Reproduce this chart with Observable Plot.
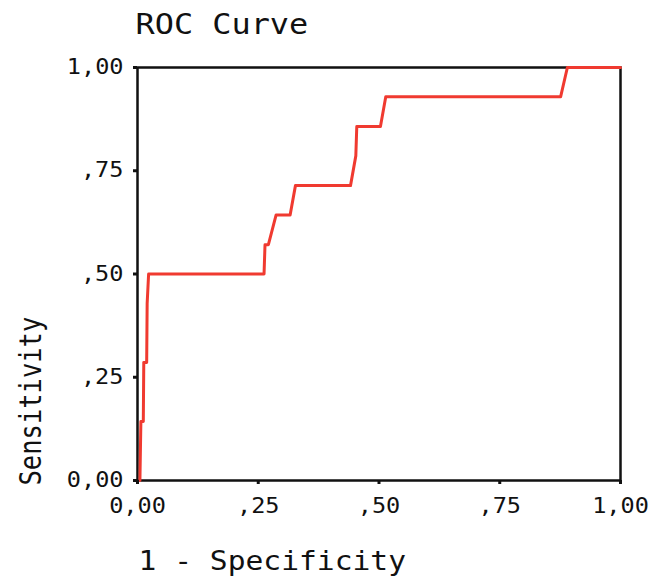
<!DOCTYPE html>
<html>
<head>
<meta charset="utf-8">
<script src="https://cdn.jsdelivr.net/npm/d3@7"></script>
<script src="https://cdn.jsdelivr.net/npm/@observablehq/plot@0.6"></script>
<style>
  html, body { margin: 0; padding: 0; background: #fff; }
</style>
</head>
<body>
<div id="chart"></div>
<script>
const title = "ROC Curve";
const xLabel = "1 - Specificity";
const yLabel = "Sensitivity";
const tickValues = [0, 0.25, 0.5, 0.75, 1];
const tickLabels = ["0,00", ",25", ",50", ",75", "1,00"];

// ROC curve points (1 - specificity, sensitivity)
const fpr = [0.005, 0.007, 0.012, 0.013, 0.019, 0.020, 0.023, 0.262, 0.264, 0.271, 0.287, 0.316, 0.327, 0.441, 0.452, 0.454, 0.503, 0.514, 0.876, 0.890, 1.000];
const tpr = [0.000, 0.143, 0.143, 0.286, 0.286, 0.429, 0.500, 0.500, 0.571, 0.571, 0.643, 0.643, 0.714, 0.714, 0.786, 0.857, 0.857, 0.929, 0.929, 1.000, 1.000];

const data = fpr.map((x, i) => ({x, y: tpr[i]}));
const fmt = d => tickLabels[tickValues.indexOf(d)];
const font = "DejaVu Sans Mono";

const plot = Plot.plot({
  width: 650,
  height: 577,
  marginLeft: 137,
  marginRight: 30,
  marginTop: 67,
  marginBottom: 97,
  style: {fontFamily: font, color: "#111", background: "#fff"},
  x: {domain: [0, 1], label: null},
  y: {domain: [0, 1], label: null},
  marks: [
    Plot.frame({stroke: "#111", strokeWidth: 2.5}),
    Plot.line(data, {x: "x", y: "y", stroke: "#f03a30", strokeWidth: 3, curve: "linear"}),
    Plot.axisX({ticks: tickValues, tickFormat: fmt, tickSize: 4, tickPadding: 14, fontSize: 20.5, strokeWidth: 3, label: null}),
    Plot.axisY({ticks: tickValues, tickFormat: fmt, tickSize: 4, tickPadding: 10, fontSize: 20.5, strokeWidth: 3, label: null}),
    Plot.text([title], {frameAnchor: "top-left", textAnchor: "start", lineAnchor: "bottom", dx: -2, dy: -34, fontSize: 27.5, fill: "#111"}),
    Plot.text([xLabel], {frameAnchor: "bottom-left", textAnchor: "start", lineAnchor: "bottom", dx: 1, dy: 89, fontSize: 26, fill: "#111"}),
    Plot.text([yLabel], {frameAnchor: "bottom-left", textAnchor: "start", lineAnchor: "bottom", rotate: -90, dx: -97, dy: 5, fontSize: 25.5, fill: "#111"})
  ]
});

// The reference glyphs are stretched horizontally; reproduce that with a local scale.
function stretch(sel, sx, sy) {
  sel.each(function() {
    const t = this;
    const tr = t.getAttribute("transform") || "";
    const x0 = parseFloat(t.getAttribute("x")) || 0;
    t.setAttribute("transform", `${tr} translate(${x0},0) scale(${sx},${sy}) translate(${-x0},0)`);
  });
}
const svg = d3.select(plot);
stretch(svg.selectAll('g[aria-label="x-axis tick label"] text, g[aria-label="y-axis tick label"] text'), 1.15, 1);
const scales = [[1.16, 1], [1.14, 1], [1, 1.2]];
svg.selectAll('g[aria-label="text"]').each(function(_, i) {
  stretch(d3.select(this).selectAll("text"), scales[i][0], scales[i][1]);
});
document.getElementById("chart").appendChild(plot);
</script>
</body>
</html>
